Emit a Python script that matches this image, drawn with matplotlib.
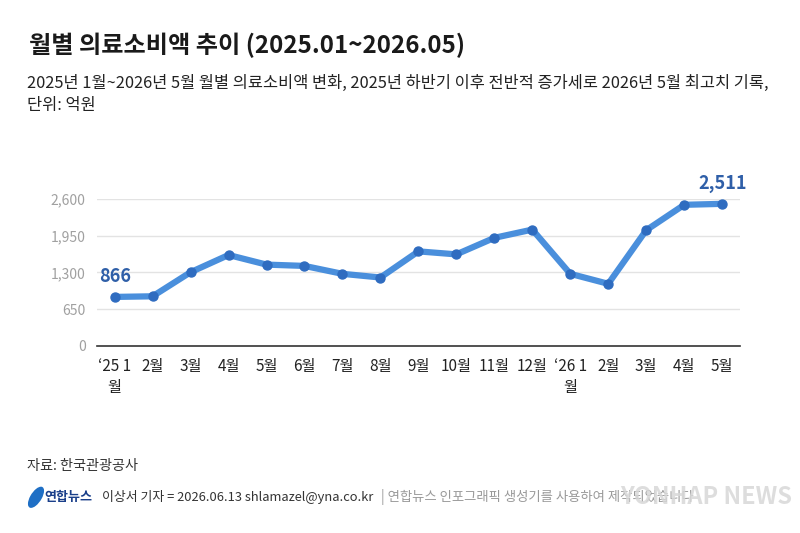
import matplotlib
matplotlib.use('Agg')
import matplotlib.pyplot as plt
from matplotlib.patches import Ellipse

plt.rcParams['font.family'] = ['Noto Sans CJK KR', 'DejaVu Sans']

# data (억원)
months = ['\u201825 1\n월', '2월', '3월', '4월', '5월', '6월', '7월', '8월', '9월', '10월',
          '11월', '12월', '\u201826 1\n월', '2월', '3월', '4월', '5월']
spending = [866, 877, 1303, 1607, 1437, 1414, 1274, 1209, 1671, 1618,
            1910, 2056, 1274, 1098, 2045, 2494, 2511]
yticks = [0, 650, 1300, 1950, 2600]

fig = plt.figure(figsize=(8, 5.33), dpi=100)
ax = fig.add_axes([0.121, 0.351, 0.804, 0.276])

x = list(range(len(months)))
ax.plot(x, spending, color='#4a8fdc', lw=4.5, solid_capstyle='round', zorder=3)
ax.scatter(x, spending, s=42, color='#2f6cc0', zorder=4)

ax.set_xlim(-0.47, 16.47)
ax.set_ylim(0, 2600)
ax.set_yticks(yticks)
ax.set_yticklabels([f'{v:,}' for v in yticks], color='#a0a0a0', fontsize=10)
ax.set_xticks(x)
ax.set_xticklabels(months, fontsize=11, color='#222222', linespacing=1.3, va='top')
ax.tick_params(axis='both', length=0, pad=8)
ax.tick_params(axis='x', pad=9)
for y in yticks[1:]:
    ax.axhline(y, color='#e3e3e3', lw=1, zorder=1)
for s in ['top', 'right', 'left']:
    ax.spines[s].set_visible(False)
ax.spines['bottom'].set_color('#333333')
ax.spines['bottom'].set_linewidth(1.2)

ax.annotate(f'{spending[0]:,}', (x[0], spending[0]), xytext=(0, 8), textcoords='offset points',
            ha='center', va='bottom', color='#2f5fa8', fontsize=13, fontweight='bold')
ax.annotate(f'{spending[-1]:,}', (x[-1], spending[-1]), xytext=(0, 8), textcoords='offset points',
            ha='center', va='bottom', color='#2f5fa8', fontsize=13, fontweight='bold',
            annotation_clip=False)

fig.text(0.036, 0.915, '월별 의료소비액 추이 (2025.01~2026.05)', fontsize=17.4, fontweight='bold',
         color='#1a1a1a', va='center')
fig.text(0.034, 0.843, '2025년 1월~2026년 5월 월별 의료소비액 변화, 2025년 하반기 이후 전반적 증가세로 2026년 5월 최고치 기록,',
         fontsize=11.8, color='#222222', va='center')
fig.text(0.034, 0.803, '단위: 억원', fontsize=11.8, color='#222222', va='center')

fig.text(0.034, 0.126, '자료: 한국관광공사', fontsize=10.2, color='#333333', va='center')

fig.patches.append(Ellipse((0.045, 0.067), 0.015, 0.042, transform=fig.transFigure,
                           facecolor='#1f6fc5', edgecolor='none', angle=-20))
fig.text(0.056, 0.067, '연합뉴스', fontsize=9.4, fontweight='bold', color='#1a3f8a', va='center')
fig.text(0.127, 0.067, '이상서 기자 = 2026.06.13 shlamazel@yna.co.kr', fontsize=9.3, color='#333333', va='center')
fig.text(0.476, 0.067, '| 연합뉴스 인포그래픽 생성기를 사용하여 제작되었습니다', fontsize=9.6, color='#999999', va='center')
fig.text(0.99, 0.067, 'YONHAP NEWS', fontsize=17, fontweight='bold', fontstyle='italic',
         color='#d8d8d8', alpha=0.85, ha='right', va='center')

fig.savefig('out.png', dpi=100, facecolor='white')
